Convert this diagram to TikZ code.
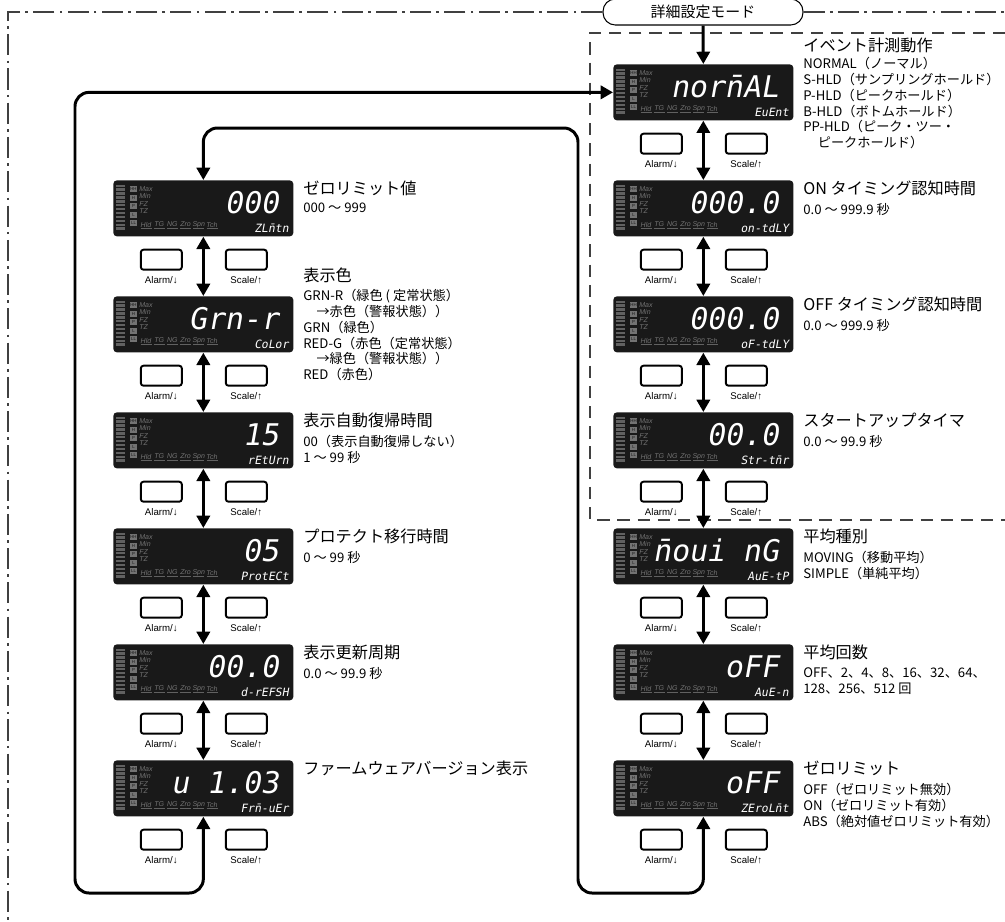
\documentclass[tikz,border=0pt]{standalone}
\usepackage{fontspec}
\setmainfont{Liberation Sans}
\newfontfamily\jpfont{Noto Sans CJK JP}
\newfontfamily\segfont[FakeSlant=0.18]{DejaVu Sans Mono}
\usetikzlibrary{arrows.meta}

% one front panel: display, two keys and their labels
\newcommand{\lcdpanel}[4]{%
  \node[lcd] (#1) at (#2) {};
  \begin{scope}[shift={(#1.north west)}]
    \foreach \k in {0,...,11}
      \fill[lcddim] (3,{4.5+3.9*\k}) rectangle (12,{6.9+3.9*\k});
    \foreach \lbl [count=\k from 0] in {HH,H,P,L,LL}
      \node[lcdkey] at (20.5,{9+8.6*\k}) {\lbl};
    \foreach \lbl [count=\k from 0] in {Max,Min,FZ,TZ}
      \node[lcdtag, anchor=west] at (26,{9+7.4*\k}) {\lbl};
    \foreach \lbl [count=\k from 0] in {Hld,TG,NG,Zro,Spn,Tch} {
      \node[lcdtag] at ({33+13.2*\k},44.5) {\lbl};
      \draw[lcddim, line width=0.9pt] ({27.5+13.2*\k},48.5) -- ({38.5+13.2*\k},48.5);
    }
    \node[lcdmain] at (166,33) {#3};
    \node[lcdsub] at (176,52) {#4};
  \end{scope}
  \node[key] (#1-alarm) at ([shift={(-42,23)}]#1.south) {};
  \node[key] (#1-scale) at ([shift={(43,23)}]#1.south) {};
  \node[keytext] at ([shift={(0,20)}]#1-alarm) {Alarm/↓};
  \node[keytext] at ([shift={(0,20)}]#1-scale) {Scale/↑};
}

\begin{document}
\begin{tikzpicture}[
        x=0.02cm, y=-0.02cm,
        lcd/.style={draw=none, fill=black!90, rounded corners=2pt, anchor=north west,
            minimum width=3.6cm, minimum height=1.12cm, inner sep=0pt},
        lcddim/.style={black!62},
        lcdkey/.style={fill=black!55, text=black!90, minimum width=0.14cm, minimum height=0.12cm,
            inner sep=0pt, font=\fontsize{2.5}{2.5}\selectfont},
        lcdtag/.style={text=black!55, inner sep=0pt, font=\itshape\fontsize{4}{4}\selectfont},
        lcdmain/.style={text=white, anchor=base east, inner sep=0pt, font=\segfont\fontsize{17}{17}\selectfont},
        lcdsub/.style={text=white, anchor=base east, inner sep=0pt, font=\segfont\fontsize{6.5}{6.5}\selectfont},
        key/.style={draw=black, line width=1.1pt, fill=white, rounded corners=1.5pt,
            minimum width=0.82cm, minimum height=0.4cm, inner sep=0pt},
        keytext/.style={inner sep=0pt, font=\fontsize{5.5}{6}\selectfont},
        title/.style={anchor=west, inner sep=0pt, font=\jpfont\fontsize{9.2}{10}\selectfont},
        desc/.style={anchor=north west, inner sep=0pt, align=left, font=\jpfont\fontsize{7.5}{9}\selectfont},
        modebox/.style={draw=black, line width=0.6pt, fill=white, rounded corners=7pt,
            minimum width=4cm, minimum height=0.52cm, font=\jpfont\fontsize{8.5}{9}\selectfont},
        frame/.style={draw=black!75, line width=0.6pt, dash pattern=on 12pt off 3pt on 1.5pt off 3pt},
        zone/.style={draw=black!75, line width=0.6pt, dash pattern=on 7pt off 4.5pt},
        flow/.style={line width=1.7pt, -{Triangle[length=7pt,width=7.5pt]}},
        twoway/.style={line width=1.7pt, {Triangle[length=7pt,width=7.5pt]}-{Triangle[length=7pt,width=7.5pt]}},
    ]
    \useasboundingbox (0,0) rectangle (1005,921);

    % outer frame and the event group
    \node[modebox] (mode) at (703,12) {詳細設定モード};
    \draw[frame] (mode.west) -- (8,12) -- (8,921);
    \draw[frame] (mode.east) -- (1005,12);
    \draw[zone] (1005,33) -- (590,33) -- (590,520) -- (1005,520);

    % right column
    \lcdpanel{R0}{613,64}{norn̄AL}{EuEnt}
    \lcdpanel{R1}{613,180}{000.0}{on-tdLY}
    \lcdpanel{R2}{613,296}{000.0}{oF-tdLY}
    \lcdpanel{R3}{613,412}{00.0}{Str-tn̄r}
    \lcdpanel{R4}{613,528}{n̄oui nG}{AuE-tP}
    \lcdpanel{R5}{613,644}{oFF}{AuE-n}
    \lcdpanel{R6}{613,760}{oFF}{ZEroLn̄t}

    % left column
    \lcdpanel{L1}{113,180}{000}{ZLn̄tn}
    \lcdpanel{L2}{113,296}{Grn-r}{CoLor}
    \lcdpanel{L3}{113,412}{15}{rEtUrn}
    \lcdpanel{L4}{113,528}{05}{ProtECt}
    \lcdpanel{L5}{113,644}{00.0}{d-rEFSH}
    \lcdpanel{L6}{113,760}{u 1.03}{Frn̄-uEr}

    % texts, right column
    \node[title] (R0-t) at (803,45) {イベント計測動作};
    \node[desc] (R0-d) at (803,57) {NORMAL（ノーマル）\\S-HLD（サンプリングホールド）\\P-HLD（ピークホールド）\\B-HLD（ボトムホールド）\\PP-HLD（ピーク・ツー・\\\hspace{1.1em}ピークホールド）};
    \node[title] (R1-t) at (803,188) {ON タイミング認知時間};
    \node[desc] (R1-d) at (803,203) {0.0 ～ 999.9 秒};
    \node[title] (R2-t) at (803,304) {OFF タイミング認知時間};
    \node[desc] (R2-d) at (803,319) {0.0 ～ 999.9 秒};
    \node[title] (R3-t) at (803,420) {スタートアップタイマ};
    \node[desc] (R3-d) at (803,435) {0.0 ～ 99.9 秒};
    \node[title] (R4-t) at (803,536) {平均種別};
    \node[desc] (R4-d) at (803,551) {MOVING（移動平均）\\SIMPLE（単純平均）};
    \node[title] (R5-t) at (803,652) {平均回数};
    \node[desc] (R5-d) at (803,667) {OFF、2、4、8、16、32、64、\\128、256、512 回};
    \node[title] (R6-t) at (803,768) {ゼロリミット};
    \node[desc] (R6-d) at (803,783) {OFF（ゼロリミット無効）\\ON（ゼロリミット有効）\\ABS（絶対値ゼロリミット有効）};

    % texts, left column
    \node[title] (L1-t) at (303,188) {ゼロリミット値};
    \node[desc] (L1-d) at (303,203) {000 ～ 999};
    \node[title] (L2-t) at (303,275) {表示色};
    \node[desc] (L2-d) at (303,289) {GRN-R（緑色 ( 定常状態）\\\hspace{1em}→赤色（警報状態））\\GRN（緑色）\\RED-G（赤色（定常状態）\\\hspace{1em}→緑色（警報状態））\\RED（赤色）};
    \node[title] (L3-t) at (303,420) {表示自動復帰時間};
    \node[desc] (L3-d) at (303,435) {00（表示自動復帰しない）\\1 ～ 99 秒};
    \node[title] (L4-t) at (303,536) {プロテクト移行時間};
    \node[desc] (L4-d) at (303,551) {0 ～ 99 秒};
    \node[title] (L5-t) at (303,652) {表示更新周期};
    \node[desc] (L5-d) at (303,667) {0.0 ～ 99.9 秒};
    \node[title] (L6-t) at (303,768) {ファームウェアバージョン表示};

    % key flow
    \draw[flow] (mode.south) -- (R0.north);
    \foreach \a/\b in {R0/R1,R1/R2,R2/R3,R3/R4,R4/R5,R5/R6,L1/L2,L2/L3,L3/L4,L4/L5,L5/L6}
        \draw[twoway] (\a.south) -- (\b.north);
    \draw[twoway, rounded corners=8pt] (L6.south) -- (L6.south |- 0,893) -- (75,893)
        -- (75,0 |- R0.west) -- (R0.west);
    \draw[twoway, rounded corners=8pt] (R6.south) -- (R6.south |- 0,893) -- (578,893)
        -- (578,128) -- (L1.north |- 0,128) -- (L1.north);
\end{tikzpicture}
\end{document}
